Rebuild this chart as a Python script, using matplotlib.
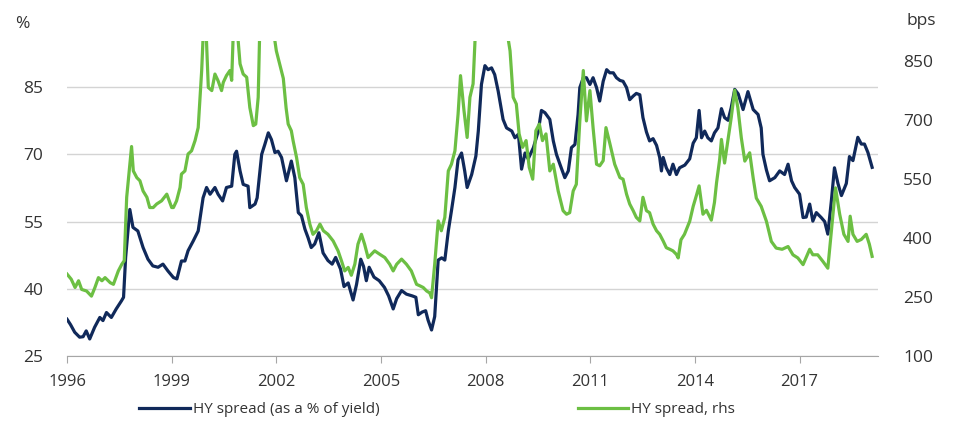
import matplotlib
matplotlib.use("Agg")
import matplotlib.pyplot as plt

# HY spread as % of yield (left axis)
blue_years = [1996.00, 1996.10, 1996.22, 1996.36, 1996.46, 1996.55, 1996.65, 1996.79, 1996.94, 1997.03,
              1997.13, 1997.27, 1997.41, 1997.56, 1997.62, 1997.68, 1997.80, 1997.89, 1998.03, 1998.18,
              1998.32, 1998.46, 1998.61, 1998.75, 1998.89, 1999.05, 1999.15, 1999.28, 1999.38, 1999.47,
              1999.62, 1999.76, 1999.90, 2000.00, 2000.10, 2000.24, 2000.33, 2000.46, 2000.57, 2000.72,
              2000.81, 2000.86, 2000.96, 2001.05, 2001.19, 2001.24, 2001.39, 2001.45, 2001.58, 2001.67,
              2001.77, 2001.86, 2001.96, 2002.05, 2002.15, 2002.29, 2002.43, 2002.53, 2002.63, 2002.72,
              2002.82, 2002.91, 2003.00, 2003.10, 2003.22, 2003.34, 2003.48, 2003.60, 2003.70, 2003.84,
              2003.94, 2004.06, 2004.20, 2004.30, 2004.42, 2004.50, 2004.58, 2004.66, 2004.80, 2004.95,
              2005.10, 2005.22, 2005.35, 2005.45, 2005.59, 2005.73, 2005.90, 2006.00, 2006.07, 2006.18,
              2006.28, 2006.35, 2006.45, 2006.54, 2006.64, 2006.74, 2006.83, 2006.93, 2007.02, 2007.12,
              2007.21, 2007.31, 2007.40, 2007.47, 2007.60, 2007.72, 2007.79, 2007.88, 2007.98, 2008.07,
              2008.17, 2008.26, 2008.36, 2008.50, 2008.60, 2008.75, 2008.84, 2008.94, 2009.03, 2009.13,
              2009.22, 2009.37, 2009.51, 2009.60, 2009.70, 2009.84, 2009.94, 2010.03, 2010.13, 2010.27,
              2010.37, 2010.46, 2010.56, 2010.65, 2010.70, 2010.80, 2010.89, 2010.99, 2011.08, 2011.18,
              2011.27, 2011.37, 2011.47, 2011.56, 2011.66, 2011.75, 2011.85, 2011.94, 2012.04, 2012.13,
              2012.23, 2012.32, 2012.42, 2012.51, 2012.61, 2012.70, 2012.80, 2012.90, 2012.99, 2013.04,
              2013.09, 2013.18, 2013.28, 2013.37, 2013.47, 2013.56, 2013.71, 2013.85, 2013.95, 2014.04,
              2014.12, 2014.19, 2014.28, 2014.37, 2014.47, 2014.56, 2014.66, 2014.76, 2014.85, 2014.95,
              2015.04, 2015.14, 2015.24, 2015.38, 2015.52, 2015.67, 2015.81, 2015.90, 2015.95, 2016.05,
              2016.14, 2016.29, 2016.43, 2016.57, 2016.67, 2016.77, 2016.86, 2017.00, 2017.10, 2017.19,
              2017.29, 2017.38, 2017.48, 2017.62, 2017.72, 2017.81, 2017.91, 2018.00, 2018.10, 2018.20,
              2018.34, 2018.43, 2018.53, 2018.67, 2018.77, 2018.86, 2018.96, 2019.08]
blue = [33.2, 32.0, 30.3, 29.2, 29.3, 30.6, 28.8, 31.4, 33.6, 32.9,
        34.7, 33.6, 35.5, 37.3, 38.1, 47.0, 57.7, 53.7, 52.9, 49.2,
        46.6, 45.1, 44.8, 45.5, 44.0, 42.5, 42.2, 46.2, 46.2, 48.5,
        50.7, 52.9, 60.3, 62.6, 61.1, 62.6, 61.1, 59.6, 62.6, 62.9,
        70.0, 70.7, 66.3, 63.3, 62.9, 58.1, 58.9, 60.3, 70.0, 72.2,
        74.8, 73.3, 70.4, 70.7, 69.3, 64.1, 68.5, 64.8, 57.0, 56.3,
        53.3, 51.4, 49.2, 50.0, 52.5, 48.0, 46.3, 45.5, 47.0, 44.4,
        40.5, 41.3, 37.5, 41.0, 46.6, 45.0, 41.8, 44.8, 42.6, 41.8,
        40.3, 38.4, 35.5, 37.8, 39.6, 38.8, 38.4, 38.1, 34.2, 34.8,
        35.1, 33.0, 30.8, 33.8, 46.4, 46.9, 46.4, 52.9, 57.4, 62.6,
        68.8, 70.3, 66.3, 62.6, 65.5, 69.6, 75.2, 85.6, 89.8, 88.9,
        89.3, 87.8, 84.1, 77.8, 75.9, 75.2, 73.7, 74.5, 66.7, 70.3,
        69.0, 71.5, 75.2, 79.8, 79.3, 77.8, 73.0, 70.0, 67.8, 64.8,
        66.3, 71.5, 72.2, 78.9, 84.9, 87.1, 87.1, 85.6, 87.1, 84.9,
        81.9, 86.3, 88.9, 88.2, 88.2, 87.1, 86.5, 86.3, 84.9, 82.2,
        83.0, 83.6, 83.3, 78.2, 75.0, 73.0, 73.5, 72.0, 69.3, 66.3,
        69.3, 67.0, 65.5, 67.8, 65.5, 67.0, 67.6, 69.0, 72.5, 73.7,
        79.8, 73.7, 75.2, 73.7, 73.0, 74.8, 75.9, 80.2, 78.2, 77.6,
        80.4, 84.5, 83.5, 80.0, 84.0, 80.0, 78.9, 75.9, 70.0, 66.5,
        64.1, 64.8, 66.3, 65.5, 67.8, 64.1, 62.6, 61.1, 55.9, 56.0,
        58.9, 55.1, 57.0, 55.9, 55.0, 52.2, 59.5, 67.0, 63.5, 60.8,
        63.5, 69.5, 68.6, 73.8, 72.3, 72.3, 70.4, 67.1]

# HY spread in bps (right axis); values above the axis top are clipped in the original
green_years = [1996.00, 1996.12, 1996.23, 1996.33, 1996.42, 1996.56, 1996.70, 1996.80, 1996.90, 1997.00,
               1997.09, 1997.24, 1997.33, 1997.47, 1997.57, 1997.64, 1997.71, 1997.81, 1997.85, 1997.90,
               1998.00, 1998.09, 1998.18, 1998.29, 1998.37, 1998.47, 1998.57, 1998.71, 1998.86, 1999.00,
               1999.05, 1999.14, 1999.24, 1999.28, 1999.38, 1999.47, 1999.57, 1999.67, 1999.76, 1999.86,
               1999.92, 1999.98, 2000.05, 2000.15, 2000.24, 2000.33, 2000.43, 2000.48, 2000.57, 2000.67,
               2000.72, 2000.78, 2000.86, 2000.96, 2001.05, 2001.15, 2001.24, 2001.34, 2001.41, 2001.48,
               2001.53, 2001.65, 2001.80, 2001.91, 2002.00, 2002.10, 2002.20, 2002.28, 2002.34, 2002.43,
               2002.48, 2002.58, 2002.67, 2002.77, 2002.86, 2002.96, 2003.05, 2003.15, 2003.25, 2003.35,
               2003.48, 2003.63, 2003.77, 2003.87, 2003.96, 2004.06, 2004.15, 2004.25, 2004.34, 2004.44,
               2004.53, 2004.63, 2004.72, 2004.82, 2004.97, 2005.11, 2005.25, 2005.35, 2005.45, 2005.59,
               2005.73, 2005.87, 2006.02, 2006.12, 2006.21, 2006.31, 2006.40, 2006.45, 2006.54, 2006.64,
               2006.73, 2006.83, 2006.93, 2007.02, 2007.12, 2007.21, 2007.28, 2007.38, 2007.47, 2007.55,
               2007.64, 2007.72, 2007.90, 2008.20, 2008.50, 2008.62, 2008.70, 2008.79, 2008.88, 2008.96,
               2009.06, 2009.16, 2009.25, 2009.35, 2009.44, 2009.54, 2009.63, 2009.73, 2009.84, 2009.94,
               2010.08, 2010.22, 2010.32, 2010.41, 2010.51, 2010.60, 2010.70, 2010.80, 2010.89, 2010.99,
               2011.08, 2011.18, 2011.27, 2011.37, 2011.45, 2011.56, 2011.70, 2011.85, 2011.94, 2012.04,
               2012.13, 2012.23, 2012.32, 2012.42, 2012.51, 2012.61, 2012.70, 2012.80, 2012.90, 2012.99,
               2013.09, 2013.18, 2013.28, 2013.37, 2013.47, 2013.52, 2013.60, 2013.70, 2013.85, 2013.95,
               2014.05, 2014.12, 2014.23, 2014.33, 2014.47, 2014.56, 2014.62, 2014.71, 2014.76, 2014.85,
               2014.95, 2015.04, 2015.14, 2015.23, 2015.33, 2015.43, 2015.57, 2015.67, 2015.76, 2015.90,
               2016.05, 2016.19, 2016.33, 2016.50, 2016.67, 2016.81, 2016.95, 2017.10, 2017.29, 2017.38,
               2017.52, 2017.67, 2017.81, 2017.91, 2018.03, 2018.15, 2018.27, 2018.39, 2018.45, 2018.53,
               2018.65, 2018.77, 2018.91, 2019.00, 2019.08]
green = [308, 295, 274, 291, 269, 265, 252, 274, 299, 291,
         299, 286, 282, 316, 333, 342, 503, 596, 632, 570,
         553, 545, 519, 503, 477, 477, 486, 494, 511, 477,
         477, 494, 528, 562, 570, 613, 621, 647, 680, 825,
         950, 940, 782, 774, 816, 799, 774, 795, 812, 825,
         800, 960, 950, 842, 816, 808, 731, 685, 689, 757,
         950, 1000, 1020, 930, 875, 840, 805, 730, 689, 672,
         647, 604, 553, 536, 477, 435, 409, 418, 435, 418,
         409, 392, 367, 341, 316, 325, 305, 333, 384, 409,
         384, 350, 358, 367, 358, 350, 333, 316, 333, 346,
         333, 316, 282, 278, 274, 265, 260, 248, 333, 443,
         418, 452, 570, 587, 621, 714, 812, 723, 655, 757,
         791, 950, 1300, 1600, 1200, 920, 875, 757, 740, 664,
         630, 647, 579, 549, 672, 689, 647, 664, 570, 587,
         519, 469, 460, 464, 519, 536, 697, 825, 697, 774,
         680, 587, 583, 596, 680, 640, 587, 553, 549, 511,
         486, 469, 452, 443, 503, 469, 464, 435, 418, 409,
         392, 375, 371, 367, 358, 349, 395, 409, 442, 480,
         510, 532, 460, 470, 445, 490, 540, 600, 650, 590,
         650, 705, 775, 731, 654, 595, 616, 552, 501, 480,
         442, 391, 374, 371, 378, 357, 349, 332, 371, 357,
         357, 340, 323, 417, 527, 460, 409, 391, 455, 409,
         391, 396, 409, 384, 353]

year_ticks = [1996, 1999, 2002, 2005, 2008, 2011, 2014, 2017]
left_ticks = [25, 40, 55, 70, 85]
right_ticks = [100, 250, 400, 550, 700, 850]

navy = "#10295a"
lime = "#6cbf43"
txt = "#333333"

plt.rcParams["font.family"] = ["Open Sans", "DejaVu Sans"]

fig = plt.figure(figsize=(9.59, 4.37), dpi=100)
ax = fig.add_axes([0.0699, 0.1854, 0.8457, 0.7208])
ax2 = ax.twinx()

ax.plot(blue_years, blue, color=navy, lw=2.3, solid_joinstyle="round",
        label="HY spread (as a % of yield)")
ax2.plot(green_years, green, color=lime, lw=2.3, solid_joinstyle="round",
         label="HY spread, rhs")

ax.set_xlim(1996, 2019.25)
ax.set_ylim(25, 95.3)
ax2.set_ylim(100, 900)

ax.set_xticks(year_ticks)
ax.set_yticks(left_ticks)
ax2.set_yticks(right_ticks)

for a in (ax, ax2):
    for s in ("top", "left", "right"):
        a.spines[s].set_visible(False)
ax.spines["bottom"].set_color("#a6a6a6")
ax2.spines["bottom"].set_visible(False)

ax.yaxis.grid(True, color="#d4d4d4", lw=1)
ax.set_axisbelow(True)
ax.tick_params(axis="x", length=5, color="#a6a6a6", pad=8, labelsize=12, labelcolor=txt)
ax.tick_params(axis="y", length=0, pad=17, labelsize=12.5, labelcolor=txt)
ax2.tick_params(axis="y", length=0, pad=18, labelsize=12.5, labelcolor=txt)

fig.text(0.016, 0.945, "%", fontsize=12.5, color=txt, va="center", ha="left")
fig.text(0.945, 0.952, "bps", fontsize=12.5, color=txt, va="center", ha="left")

h1, l1 = ax.get_legend_handles_labels()
h2, l2 = ax2.get_legend_handles_labels()
fig.legend(h1 + h2, l1 + l2, loc="center", bbox_to_anchor=(0.456, 0.062), ncol=2,
           frameon=False, fontsize=11, handlelength=3.3, handletextpad=0.2,
           columnspacing=13, labelcolor=txt)

fig.savefig("out.png", dpi=100)
